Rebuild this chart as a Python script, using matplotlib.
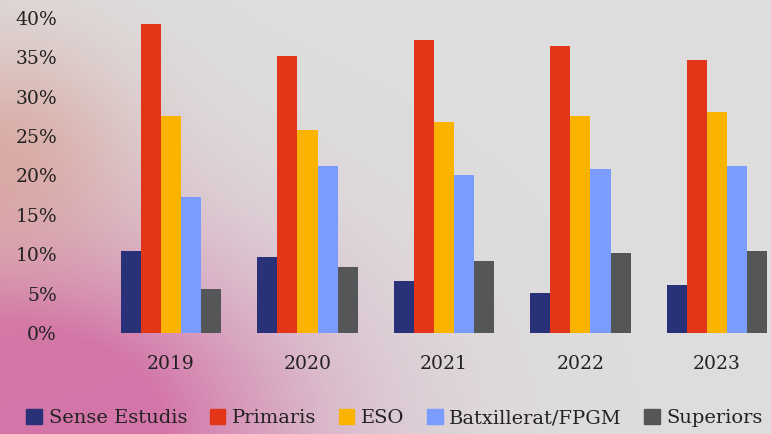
import numpy as np
import matplotlib.pyplot as plt
from matplotlib.patches import Patch

years = ['2019', '2020', '2021', '2022', '2023']
series = ['Sense Estudis', 'Primaris', 'ESO', 'Batxillerat/FPGM', 'Superiors']
sense_estudis = [10.4, 9.6, 6.6, 5.1, 6.1]
primaris = [39.2, 35.2, 37.2, 36.4, 34.7]
eso = [27.6, 25.8, 26.8, 27.6, 28.1]
batxillerat = [17.3, 21.2, 20.1, 20.8, 21.2]
superiors = [5.6, 8.4, 9.1, 10.2, 10.4]
colors = ['#293278', '#e33618', '#f9b300', '#7b9cff', '#555658']

plt.rcParams['font.family'] = ['DejaVu Serif']

fig = plt.figure(figsize=(7.71, 4.34), dpi=100)

# paper-like background with a pink/orange wash at the bottom left
W, H = 771, 434
xx, yy = np.meshgrid(np.arange(W), np.arange(H))
gray = np.array([0.87, 0.87, 0.87])
pink = np.array([0.83, 0.46, 0.66])
orange = np.array([0.85, 0.60, 0.55])
w_pink = np.exp(-((xx / 280.0) ** 2 + ((H - yy) / 190.0) ** 2))
w_orange = np.exp(-((xx / 130.0) ** 2 + ((yy - 160) / 120.0) ** 2)) * 0.65
w_pink = np.clip(w_pink * 1.4, 0, 1)
img = gray * (1 - w_pink[..., None]) + pink * w_pink[..., None]
img = img * (1 - w_orange[..., None]) + orange * w_orange[..., None]
bg = fig.add_axes([0, 0, 1, 1])
bg.imshow(np.clip(img, 0, 1), aspect='auto', extent=(0, 1, 0, 1))
bg.axis('off')

ax = fig.add_axes([100 / W, (H - 333) / H, (W - 100) / W, 315 / H])
ax.patch.set_alpha(0)
values = [sense_estudis, primaris, eso, batxillerat, superiors]
x = np.arange(len(years))
bw = 0.147
for i, (name, vals, c) in enumerate(zip(series, values, colors)):
    ax.bar(x + (i - 2) * bw, vals, width=bw, color=c, label=name)

ax.set_xlim(-0.52, 4.396)
ax.set_ylim(0, 40)
ax.set_yticks(range(0, 41, 5))
ax.set_yticklabels([f'{v}%' for v in range(0, 41, 5)])
ax.set_xticks(x)
ax.set_xticklabels(years)
ax.tick_params(length=0, labelsize=13.5, colors='#222222')
ax.tick_params(axis='x', pad=16)
ax.tick_params(axis='y', pad=31)
for s in ax.spines.values():
    s.set_visible(False)

handles = [Patch(color=c, label=n) for n, c in zip(series, colors)]
fig.legend(handles=handles, loc='center', bbox_to_anchor=(0.512, 0.037), ncol=5,
           frameon=False, fontsize=14, handlelength=0.8, handleheight=0.8,
           handletextpad=0.35, columnspacing=1.15, labelcolor='#222222')

fig.savefig('out.png', dpi=100)
